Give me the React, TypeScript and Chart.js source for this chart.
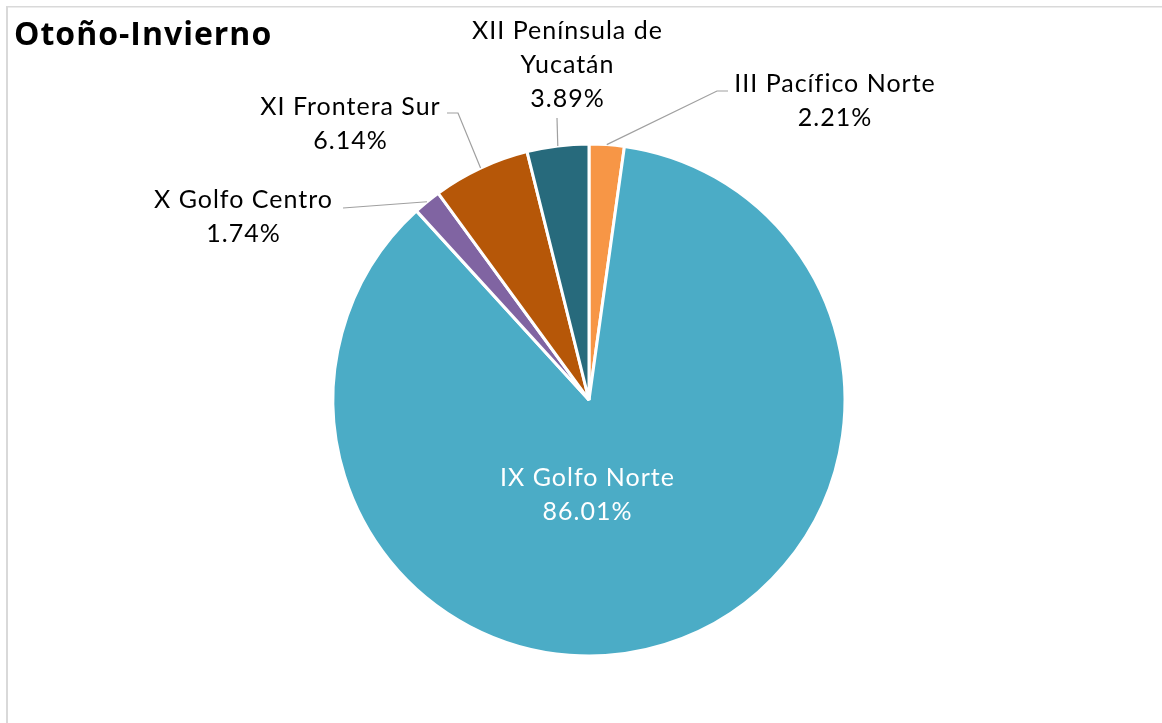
import React, { useEffect, useRef } from "react";
import { Chart, registerables } from "chart.js";

Chart.register(...registerables);

const TITLE = "Otoño-Invierno";
const categories = [
  "III Pacífico Norte",
  "IX Golfo Norte",
  "X Golfo Centro",
  "XI Frontera Sur",
  "XII Península de Yucatán",
];
const shares = [2.21, 86.01, 1.74, 6.14, 3.89];
const sliceColors = ["#F79646", "#4BACC6", "#8064A2", "#B65708", "#276A7C"];

const W = 1162;
const H = 723;
const FONT = "Lato, 'Open Sans', sans-serif";

// label layout, relative to pie centre
const labelLayout: Record<number, any> = {
  0: { tx: 245.5, ty: -308, pts: [[128, -309], [139, -309]], color: "#000" },
  1: { tx: -2, ty: 86, pts: null, color: "#fff" },
  2: { tx: -346, ty: -192, pts: [[-246, -192]], color: "#000" },
  3: { tx: -239, ty: -285, pts: [[-131, -287], [-142, -287]], color: "#000" },
  4: { tx: -22, ty: -361, pts: [[-32, -282]], color: "#000" },
};

function wrap(ctx: CanvasRenderingContext2D, text: string, maxW: number): string[] {
  const words = text.split(" ");
  const lines: string[] = [];
  let cur = "";
  for (const w of words) {
    const t = cur ? cur + " " + w : w;
    if (cur && ctx.measureText(t).width > maxW) {
      lines.push(cur);
      cur = w;
    } else cur = t;
  }
  if (cur) lines.push(cur);
  return lines;
}

const decorPlugin = {
  id: "decor",
  beforeDraw(chart: any) {
    const ctx = chart.ctx as CanvasRenderingContext2D;
    ctx.save();
    ctx.fillStyle = "#fff";
    ctx.fillRect(0, 0, W, H);
    ctx.fillStyle = "#d9d9d9";
    ctx.fillRect(6, 6, W, 1.5);
    ctx.fillRect(6, 6, 2, H);
    ctx.fillStyle = "#000";
    ctx.font = `bold 32px 'Open Sans', Lato, sans-serif`;
    (ctx as any).letterSpacing = "1px";
    ctx.textAlign = "left";
    ctx.textBaseline = "alphabetic";
    ctx.fillText(TITLE, 14, 45);
    ctx.restore();
  },
  afterDatasetsDraw(chart: any) {
    const ctx = chart.ctx as CanvasRenderingContext2D;
    const meta = chart.getDatasetMeta(0);
    ctx.save();
    meta.data.forEach((arc: any, i: number) => {
      const p = arc.getProps(["x", "y", "startAngle", "endAngle", "outerRadius"], true);
      const cx = p.x;
      const cy = p.y;
      const mid = (p.startAngle + p.endAngle) / 2;
      const L = labelLayout[i];
      if (L.pts) {
        ctx.strokeStyle = "#a0a0a0";
        ctx.lineWidth = 1.2;
        ctx.beginPath();
        ctx.moveTo(cx + Math.cos(mid) * p.outerRadius, cy + Math.sin(mid) * p.outerRadius);
        L.pts.forEach((q: number[]) => ctx.lineTo(cx + q[0], cy + q[1]));
        ctx.stroke();
      }
      ctx.font = `25px ${FONT}`;
      (ctx as any).letterSpacing = "1px";
      ctx.fillStyle = L.color;
      ctx.textAlign = "center";
      ctx.textBaseline = "alphabetic";
      const lines = wrap(ctx, categories[i], 225);
      lines.push(shares[i].toFixed(2) + "%");
      lines.forEach((ln, k) => ctx.fillText(ln, cx + L.tx + 0.5, cy + L.ty + k * 34));
    });
    ctx.restore();
  },
};

export default function App() {
  const ref = useRef<HTMLCanvasElement>(null);
  useEffect(() => {
    if (!ref.current) return;
    const chart = new Chart(ref.current, {
      type: "pie",
      data: {
        labels: categories,
        datasets: [
          {
            data: shares,
            backgroundColor: sliceColors,
            borderColor: "#ffffff",
            borderWidth: 3,
          },
        ],
      },
      options: {
        responsive: false,
        animation: false,
        devicePixelRatio: 1,
        layout: { padding: { left: 331.5, right: 315.5, top: 142.5, bottom: 65.5 } },
        plugins: {
          legend: { display: false },
          title: { display: false },
          tooltip: { enabled: false },
        },
      },
      plugins: [decorPlugin],
    });
    return () => chart.destroy();
  }, []);
  return (
    <div style={{ position: "fixed", left: 0, top: 0, width: W, height: H, background: "#fff" }}>
      <canvas ref={ref} width={W} height={H} style={{ display: "block" }} />
    </div>
  );
}
